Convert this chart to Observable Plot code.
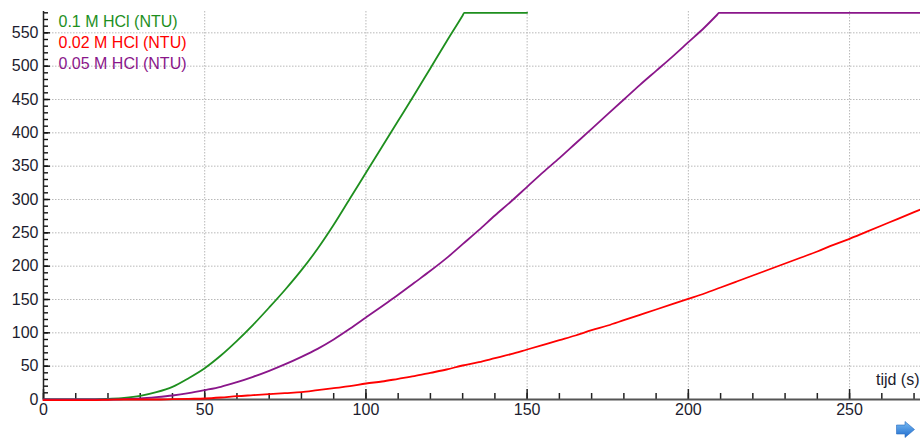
<!DOCTYPE html>
<html>
<head>
<meta charset="utf-8">
<script src="https://cdn.jsdelivr.net/npm/d3@7"></script>
<script src="https://cdn.jsdelivr.net/npm/@observablehq/plot@0.6"></script>
<style>
html, body { margin: 0; padding: 0; background: #fff; }
#wrap { position: relative; width: 920px; height: 439px; font-family: "Liberation Sans", Arial, sans-serif; }
#wrap svg { font-family: "Liberation Sans", Arial, sans-serif; font-size: 16px; }
#arrow { position: absolute; left: 896px; top: 421px; }
</style>
</head>
<body>
<div id="wrap"></div>
<script>
// ---- data ----
const seriesNames = ["0.1 M HCl (NTU)", "0.02 M HCl (NTU)", "0.05 M HCl (NTU)"];
const seriesColors = ["#1e8f1e", "#ff0000", "#8a168a"];

// 0.1 M HCl
const tGreen = [0, 5, 10, 15, 18, 20, 25, 30, 35, 40, 45, 50, 55, 60, 65, 70, 75, 80, 85, 90, 95, 100, 105, 110, 115, 120, 125, 130, 130.5, 150];
const vGreen = [0, 0, 0, 0, 0.5, 1, 2.5, 5.5, 11, 19, 32, 47, 66, 88, 112, 138, 165, 194, 226, 262, 301, 340, 379, 418, 457, 497, 537, 576, 580, 580];

// 0.02 M HCl
const tRed = [0, 5, 10, 15, 20, 25, 30, 35, 40, 45, 50, 55, 60, 65, 70, 75, 80, 85, 90, 95, 100, 105, 110, 115, 120, 125, 130, 135, 140, 145, 150, 155, 160, 165, 170, 175, 180, 185, 190, 195, 200, 205, 210, 215, 220, 225, 230, 235, 240, 245, 250, 255, 260, 265, 270, 272];
const vRed = [-1, -1, -1, -1, -0.5, 0, 0, 0, 0.5, 1, 1.5, 3, 5, 6.5, 8, 9.5, 11, 14, 17, 20, 24, 27, 31, 35, 40, 45, 51, 56, 62, 68, 75, 82, 89, 96, 104, 111, 119, 127, 135, 143, 151, 159, 168, 177, 186, 195, 204, 213, 222, 232, 241, 251, 261, 271, 281, 285];

// 0.05 M HCl
const tPurple = [0, 5, 10, 15, 20, 25, 30, 35, 40, 45, 50, 55, 60, 65, 70, 75, 80, 85, 90, 95, 100, 105, 110, 115, 120, 125, 130, 135, 140, 145, 150, 155, 160, 165, 170, 175, 180, 185, 190, 195, 200, 205, 209, 209.5, 272];
const vPurple = [0, 0, 0, 0, 0, 0.5, 1.5, 3.5, 6, 9.5, 14, 19, 26, 34, 43, 53, 64, 76, 90, 106, 123, 140, 157, 175, 193, 212, 233, 254, 276, 297, 319, 341, 362, 384, 406, 428, 450, 472, 493, 514, 536, 558, 577.5, 580, 580];

const xMajorTicks = [0, 50, 100, 150, 200, 250];
const yMajorTicks = [0, 50, 100, 150, 200, 250, 300, 350, 400, 450, 500, 550];
const xMinorTicks = d3.range(0, 271, 10);
const yMinorTicks = d3.range(0, 581, 10);
const xTitle = "tijd (s)";

// ---- build rows ----
const seriesT = [tGreen, tRed, tPurple];
const seriesV = [vGreen, vRed, vPurple];
const rows = [];
seriesNames.forEach((name, i) => {
  seriesT[i].forEach((t, j) => rows.push({ t, v: seriesV[i][j], name }));
});
const drawOrder = [0, 2, 1];

const W = 920, H = 439, mL = 43, mR = 0, mT = 11, mB = 40;
const frameW = W - mL - mR, frameH = H - mT - mB;

const textColor = "#1c1c2e";
const gridStyle = { stroke: "#b8b8b8", strokeWidth: 1, strokeDasharray: "1.5,1.5" };

const plot = Plot.plot({
  width: W,
  height: H,
  marginLeft: mL,
  marginRight: mR,
  marginTop: mT,
  marginBottom: mB,
  x: { domain: [0, 272], label: null, axis: null },
  y: { domain: [0, 582], label: null, axis: null },
  color: { domain: seriesNames, range: seriesColors },
  marks: [
    // grid
    Plot.ruleX(xMajorTicks.filter(d => d > 0), { x: d => d, ...gridStyle }),
    Plot.ruleY(yMajorTicks.filter(d => d > 0), { y: d => d, ...gridStyle }),
    // ticks pointing into the plot
    Plot.ruleX(xMinorTicks, { x: d => d, insetTop: frameH - 6, stroke: "#222", strokeWidth: 1.5 }),
    Plot.ruleX(xMajorTicks, { x: d => d, insetTop: frameH - 10, stroke: "#222", strokeWidth: 1.5 }),
    Plot.ruleY(yMinorTicks, { y: d => d, insetRight: frameW - 5, stroke: "#111", strokeWidth: 1.4 }),
    Plot.ruleY(yMajorTicks, { y: d => d, insetRight: frameW - 7, stroke: "#111", strokeWidth: 1.4 }),
    // tick labels
    Plot.text(xMajorTicks, { x: d => d, frameAnchor: "bottom", dy: 4, lineAnchor: "top", text: d => String(d), fill: textColor, fontSize: 16 }),
    Plot.text(yMajorTicks, { y: d => d, frameAnchor: "left", dx: -5, textAnchor: "end", lineAnchor: "middle", text: d => String(d), fill: textColor, fontSize: 16 }),
    // axis lines
    Plot.ruleY([0], { stroke: "#555", strokeWidth: 2 }),
    Plot.ruleX([0], { stroke: "#222", strokeWidth: 1.5 }),
    // series
    ...drawOrder.map(i => Plot.line(rows.filter(r => r.name === seriesNames[i]), {
      x: "t", y: "v", stroke: "name", strokeWidth: 1.8, curve: "monotone-x"
    })),
    // legend
    ...seriesNames.map((name, i) => Plot.text([name], {
      frameAnchor: "top-left", text: d => d, dx: 15, dy: 10 + 21 * i,
      textAnchor: "start", lineAnchor: "middle", fill: seriesColors[i], fontSize: 16
    })),
    // axis title
    Plot.text([xTitle], {
      frameAnchor: "bottom-right", text: d => d, dx: -1, dy: -20,
      textAnchor: "end", lineAnchor: "middle", fill: textColor, fontSize: 16
    })
  ]
});

const wrap = document.getElementById("wrap");
wrap.appendChild(plot);
wrap.insertAdjacentHTML("beforeend",
  '<svg id="arrow" width="19" height="17" viewBox="0 0 19 17">' +
  '<defs><linearGradient id="ag" x1="0" y1="0" x2="0" y2="1">' +
  '<stop offset="0" stop-color="#79bbf2"/><stop offset="1" stop-color="#1e6ccf"/></linearGradient></defs>' +
  '<path d="M0.5 4 H9 V0.5 L18.5 8.5 L9 16.5 V13 H0.5 Z" fill="url(#ag)" stroke="#2a6cc0" stroke-width="0.6"/></svg>');
</script>
</body>
</html>
